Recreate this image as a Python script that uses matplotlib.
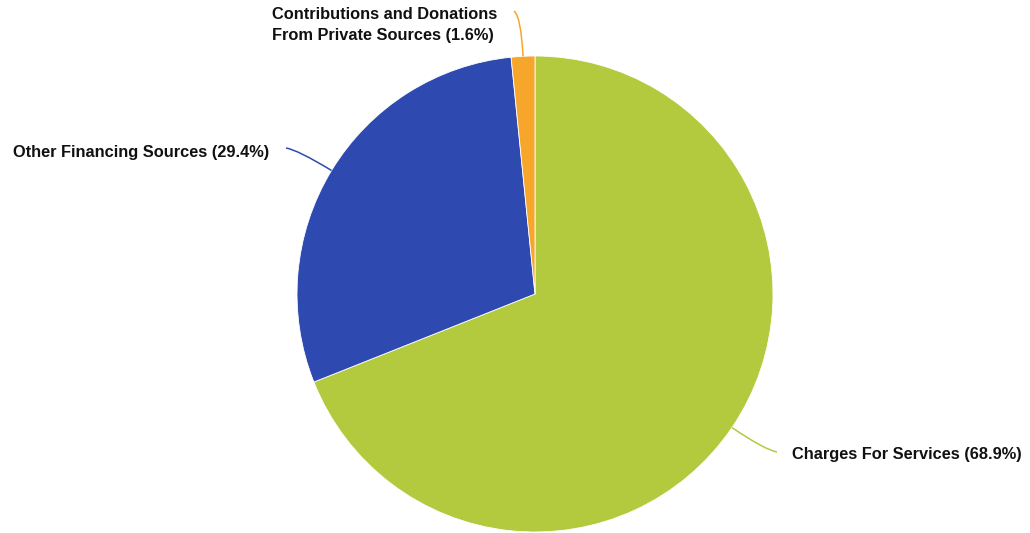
import matplotlib
matplotlib.use('Agg')
import matplotlib.pyplot as plt
from matplotlib.path import Path
from matplotlib.patches import PathPatch
import numpy as np

# Data
labels = ['Charges For Services', 'Other Financing Sources',
          'Contributions and Donations\nFrom Private Sources']
values = [68.9, 29.4, 1.6]
colors = ['#b3ca3e', '#2e4ab0', '#f5a62b']

W, H = 1030, 533
fig = plt.figure(figsize=(W / 100, H / 100), dpi=100)
ax = fig.add_axes([0, 0, 1, 1])

cx, cy, r = 535, H - 294, 238
wedges, _ = ax.pie(values, colors=colors, startangle=90, counterclock=False,
                   center=(cx, cy), radius=r,
                   wedgeprops=dict(edgecolor='white', linewidth=0.6))
ax.set_xlim(0, W)
ax.set_ylim(0, H)
ax.set_aspect('equal')
ax.axis('off')

# connector end points and text placement
ends = [(777, H - 452), (286, H - 148), (514, H - 11)]
text_pos = [(792, H - 455, 'left'), (269, H - 152, 'right'), (497, H - 25, 'right')]

for w, lab, v, col, end, tp in zip(wedges, labels, values, colors, ends, text_pos):
    ang = np.deg2rad((w.theta1 + w.theta2) / 2)
    p0 = (cx + r * np.cos(ang), cy + r * np.sin(ang))
    pc = (cx + (r + 40) * np.cos(ang), cy + (r + 40) * np.sin(ang))
    path = Path([p0, pc, end], [Path.MOVETO, Path.CURVE3, Path.CURVE3])
    ax.add_patch(PathPatch(path, fc='none', ec=col, lw=1.1))
    ax.text(tp[0], tp[1], f'{lab} ({v}%)', ha=tp[2], va='center',
            multialignment='left',
            fontsize=11.8, fontweight='bold', family='Liberation Sans',
            color='#111111', linespacing=1.45)

fig.savefig('out.png', dpi=100)
